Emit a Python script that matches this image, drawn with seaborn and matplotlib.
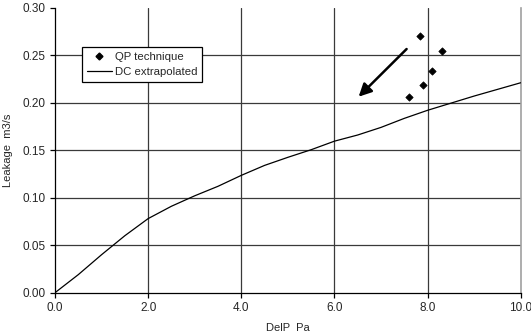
import matplotlib
matplotlib.use("Agg")
import matplotlib.pyplot as plt
import seaborn as sns
import pandas as pd
from matplotlib.lines import Line2D

# Data
qp_delp = [7.84, 8.30, 8.10, 7.90, 7.61]
qp_leak = [0.2705, 0.2540, 0.2336, 0.2183, 0.2057]

dc_delp = [0.0, 0.5, 1.0, 1.5, 2.0, 2.5, 3.0, 3.5, 4.0, 4.5, 5.0, 5.5, 6.0,
           6.5, 7.0, 7.5, 8.0, 8.5, 9.0, 9.5, 10.0]
dc_leak = [0.0, 0.019, 0.040, 0.060, 0.078, 0.091, 0.102, 0.112, 0.1235,
           0.134, 0.1425, 0.1505, 0.1595, 0.166, 0.174, 0.1835, 0.192,
           0.1995, 0.207, 0.214, 0.221]

x_ticks = [0.0, 2.0, 4.0, 6.0, 8.0, 10.0]
y_ticks = [0.00, 0.05, 0.10, 0.15, 0.20, 0.25, 0.30]

arrow_start = (7.55, 0.2565)
arrow_end = (6.52, 0.2063)

sns.set_style("white")
plt.rcParams['font.family'] = ['Liberation Sans', 'DejaVu Sans']

fig = plt.figure(figsize=(5.31, 3.35), dpi=100)
ax = fig.add_axes([55/531, 1 - 292.7/335, (520.7 - 55)/531, (292.7 - 7.7)/335])

qp = pd.DataFrame({"DelP": qp_delp, "Leak": qp_leak})
dc = pd.DataFrame({"DelP": dc_delp, "Leak": dc_leak})

fs = 8.5
ax.set_xlim(0, 10)
ax.set_ylim(0, 0.30)
ax.set_xticks(x_ticks)
ax.set_yticks(y_ticks)
ax.set_xticklabels([f"{v:.1f}" for v in x_ticks], fontsize=fs)
ax.set_yticklabels([f"{v:.2f}" for v in y_ticks], fontsize=fs)

for v in x_ticks[1:-1]:
    ax.axvline(v, color="#3a3a3a", lw=0.9, zorder=1)
for v in y_ticks[1:-1]:
    ax.axhline(v, color="#3a3a3a", lw=0.9, zorder=1)

sns.lineplot(data=dc, x="DelP", y="Leak", ax=ax, color="black", lw=0.9,
             zorder=3, legend=False)
sns.scatterplot(data=qp, x="DelP", y="Leak", ax=ax, color="black", marker="D",
                s=14, edgecolor="black", linewidth=0.5, zorder=4, legend=False)

ax.annotate("", xy=arrow_end, xytext=arrow_start,
            arrowprops=dict(arrowstyle="-|>", lw=1.8, color="black",
                            mutation_scale=19, shrinkA=0, shrinkB=0), zorder=5)

for s in ["left", "bottom"]:
    ax.spines[s].set_color("black")
    ax.spines[s].set_linewidth(0.9)
ax.spines["top"].set_visible(False)
ax.spines["right"].set_color("#a0a0a0")
ax.spines["right"].set_linewidth(1.2)

ax.tick_params(axis="both", direction="out", length=3.5, width=0.9,
               color="black", pad=3, left=True, bottom=True)

ax.set_xlabel("DelP  Pa", fontsize=fs - 0.5, labelpad=7)
ax.set_ylabel("Leakage  m3/s", fontsize=fs - 0.5, labelpad=7)

handles = [
    Line2D([], [], color="black", marker="D", markersize=3.5, linestyle="none"),
    Line2D([], [], color="black", lw=0.9),
]
leg = ax.legend(handles, ["QP technique", "DC extrapolated"],
                loc="upper left", bbox_to_anchor=(81.7/531, 1 - 46.7/335),
                bbox_transform=fig.transFigure, fontsize=8.2, frameon=True,
                fancybox=False, framealpha=1, edgecolor="black",
                borderaxespad=0, handlelength=2.2, handletextpad=0.25,
                borderpad=0.45, labelspacing=0.45)
leg.get_frame().set_linewidth(0.9)
leg.set_zorder(6)

fig.savefig("out.png", dpi=100)
